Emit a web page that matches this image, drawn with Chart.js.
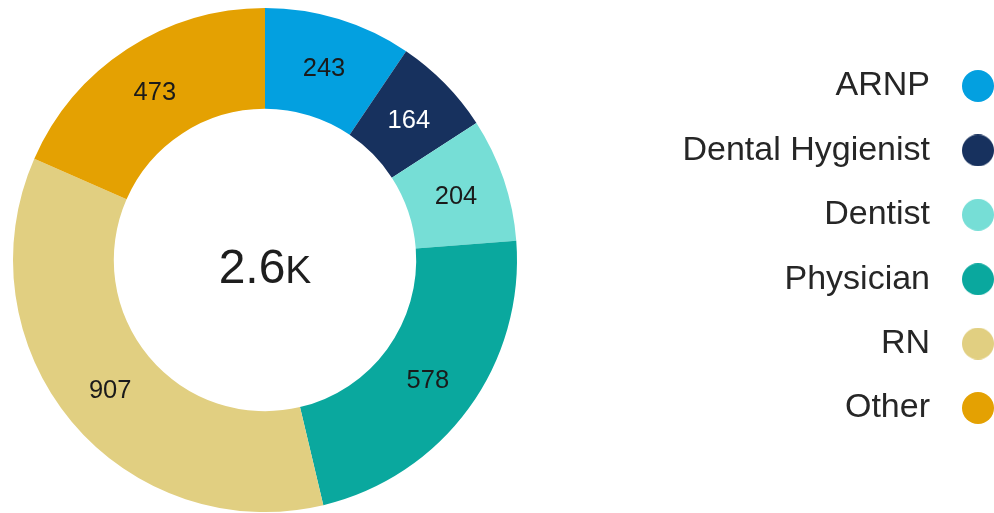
<!DOCTYPE html>
<html>
<head>
<meta charset="utf-8">
<script src="https://cdn.jsdelivr.net/npm/chart.js@4.4.1/dist/chart.umd.min.js"></script>
<style>
  html, body { margin: 0; padding: 0; background: #ffffff; }
  #wrap { width: 994px; height: 513px; }
</style>
</head>
<body>
<div id="wrap"><canvas id="chart" width="994" height="513"></canvas></div>
<script>
// Headcount by profession
const categories = ['ARNP', 'Dental Hygienist', 'Dentist', 'Physician', 'RN', 'Other'];
const counts = [243, 164, 204, 578, 907, 473];
const sliceColors = ['#03a0e0', '#17315e', '#76ded6', '#0aa89e', '#e1cf81', '#e4a102'];
const valueTextColors = ['#1a1a1a', '#ffffff', '#1a1a1a', '#1a1a1a', '#1a1a1a', '#1a1a1a'];

const FONT = '"Liberation Sans", Arial, Helvetica, sans-serif';
const LEGEND_FONT_SIZE = 34;
const LEGEND_ROW_GAP = 30.4;          // row pitch = font size + gap
const LEGEND_MARK_SLOT = 62;          // width reserved for the dot
const LEGEND_WIDTH = 477;             // keeps the ring on the left part
const LEGEND_DOT_X = 978;             // centre of the legend dots
const LEGEND_MID_Y = 247;             // vertical middle of the legend rows

// round legend markers drawn as small bitmaps
function makeDot(color) {
  const c = document.createElement('canvas');
  c.width = 32; c.height = 32;
  const g = c.getContext('2d');
  g.fillStyle = color;
  g.beginPath();
  g.arc(16, 16, 16, 0, Math.PI * 2);
  g.fill();
  return c;
}
const legendDots = sliceColors.map(makeDot);

// fixed legend width plus final placement of the legend block
const legendPlacement = {
  id: 'legendPlacement',
  beforeLayout(chart) {
    const lg = chart.legend;
    if (lg && !lg.$fixedWidth) {
      const baseFit = lg.fit;
      lg.fit = function () {
        baseFit.call(this);
        this.width = LEGEND_WIDTH;
      };
      lg.$fixedWidth = true;
    }
  },
  afterLayout(chart) {
    const lg = chart.legend;
    if (!lg) return;
    const right = LEGEND_DOT_X + LEGEND_ROW_GAP + LEGEND_MARK_SLOT / 2;
    lg.left = right - lg.width;
    lg.right = right;
    const mid = (lg.top + lg.bottom) / 2;
    const dy = LEGEND_MID_Y - mid;
    lg.top += dy;
    lg.bottom += dy;
  }
};

// value written in the middle of every slice
const sliceValueLabels = {
  id: 'sliceValueLabels',
  afterDatasetsDraw(chart) {
    const { ctx } = chart;
    const meta = chart.getDatasetMeta(0);
    const values = chart.data.datasets[0].data;
    ctx.save();
    ctx.font = `25.5px ${FONT}`;
    ctx.textAlign = 'center';
    ctx.textBaseline = 'middle';
    meta.data.forEach((arc, i) => {
      if (!chart.getDataVisibility(i)) return;
      const p = arc.tooltipPosition();
      ctx.fillStyle = valueTextColors[i];
      ctx.fillText(String(values[i]), p.x, p.y + 2);
    });
    ctx.restore();
  }
};

// total in the hole of the ring
const centerTotal = {
  id: 'centerTotal',
  afterDatasetsDraw(chart) {
    const { ctx } = chart;
    const arc = chart.getDatasetMeta(0).data[0];
    if (!arc) return;
    const total = chart.data.datasets[0].data.reduce((a, b) => a + b, 0);
    const num = (total / 1000).toFixed(1);
    const unit = 'K';
    ctx.save();
    ctx.fillStyle = '#1e1e1e';
    ctx.textBaseline = 'alphabetic';
    ctx.textAlign = 'left';
    const numFont = `48px ${FONT}`;
    const unitFont = `39px ${FONT}`;
    ctx.font = numFont;
    const wNum = ctx.measureText(num).width;
    ctx.font = unitFont;
    const wUnit = ctx.measureText(unit).width;
    const x0 = arc.x - (wNum + wUnit) / 2;
    const base = arc.y + 23;
    ctx.font = numFont;
    ctx.fillText(num, x0, base);
    ctx.font = unitFont;
    ctx.fillText(unit, x0 + wNum, base);
    ctx.restore();
  }
};

new Chart(document.getElementById('chart'), {
  type: 'doughnut',
  data: {
    labels: categories,
    datasets: [{
      data: counts,
      backgroundColor: sliceColors,
      borderWidth: 0,
      hoverOffset: 0
    }]
  },
  options: {
    responsive: false,
    devicePixelRatio: 1,
    animation: false,
    events: [],
    cutout: '60%',
    rotation: 0,
    layout: { padding: { left: 13, top: 8, bottom: 1, right: 0 } },
    plugins: {
      tooltip: { enabled: false },
      legend: {
        position: 'right',
        align: 'center',
        rtl: true,
        labels: {
          usePointStyle: true,
          pointStyleWidth: LEGEND_MARK_SLOT,
          padding: LEGEND_ROW_GAP,
          color: '#262626',
          font: { family: FONT, size: LEGEND_FONT_SIZE },
          generateLabels(chart) {
            return chart.data.labels.map((text, i) => ({
              text,
              fillStyle: sliceColors[i],
              strokeStyle: sliceColors[i],
              lineWidth: 0,
              pointStyle: legendDots[i],
              fontColor: '#262626',
              hidden: !chart.getDataVisibility(i),
              index: i
            }));
          }
        }
      }
    }
  },
  plugins: [legendPlacement, sliceValueLabels, centerTotal]
});
</script>
</body>
</html>
